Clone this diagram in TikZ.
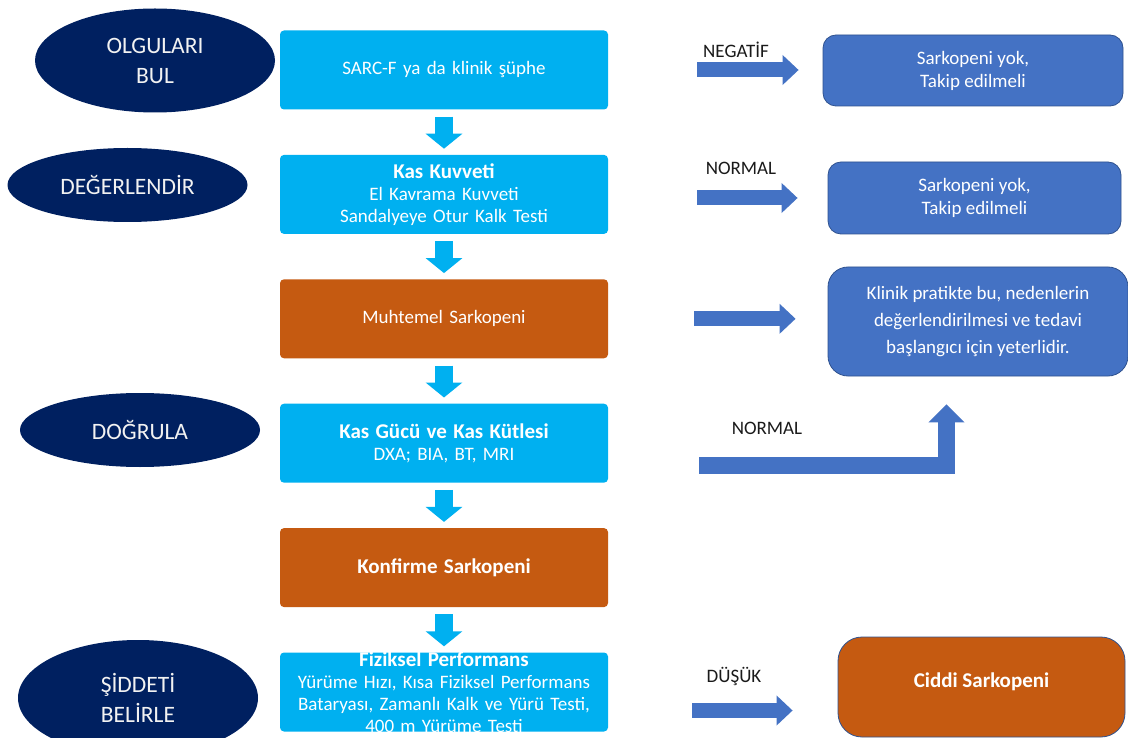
\documentclass[tikz,border=0pt]{standalone}
\usepackage{fontspec}
\setmainfont{Carlito}
\usetikzlibrary{arrows.meta,positioning,shapes.geometric}
\definecolor{NavyOval}{HTML}{002060}
\definecolor{SkyBox}{HTML}{00B0F0}
\definecolor{RustBox}{HTML}{C55A11}
\definecolor{SteelBlue}{HTML}{4472C4}
\definecolor{SteelEdge}{HTML}{2F528F}
\definecolor{LabelInk}{HTML}{1A1A1A}
\newcommand{\stephead}[1]{{\fontsize{21}{24}\selectfont\bfseries #1}}

\begin{document}
\begin{tikzpicture}[x=1pt, y=-1pt,
  stageoval/.style={ellipse, fill=NavyOval, text=white!95!black, minimum width=240pt,
    inner sep=0pt, align=center, font=\fontsize{23.5}{30}\selectfont},
  steptext/.style={text=white, text width=318pt, align=center, font=\fontsize{19}{22}\selectfont},
  stepbox/.style={steptext, rectangle, rounded corners=4pt, fill=SkyBox,
    minimum width=328pt, minimum height=79pt, inner sep=0pt},
  resultbox/.style={rectangle, fill=SteelBlue, draw=SteelEdge, line width=0.8pt,
    rounded corners=13pt, text=white, align=center, inner sep=0pt,
    font=\fontsize{19}{23}\selectfont},
  downflow/.style={draw=SkyBox, line width=18pt, -{Triangle[length=15pt,width=36pt]},
    shorten <=7pt, shorten >=6pt},
  sideflow/.style={draw=SteelBlue, line width=15pt, line join=miter,
    -{Triangle[length=16pt,width=29pt]}},
  flaglabel/.style={text=LabelInk, font=\fontsize{19}{22}\selectfont}
]
\path[use as bounding box, fill=white] (0,0) rectangle (1128,738);

% stage ovals on the left
\node[stageoval, minimum height=104pt] (bul) at (155,60.5) {OLGULARI\\BUL};
\node[stageoval, minimum height=74pt] (degr) at (127.5,185) {DEĞERLENDİR};
\node[stageoval, minimum height=74pt] (dogr) at (140,430) {DOĞRULA};
\node[stageoval, minimum height=116pt] (sidd) at (138,698) {ŞİDDETİ\\BELİRLE};

% main column
\node[stepbox] (sarc) at (444,70) {SARC-F ya da klinik şüphe};
\node[stepbox, below=45pt of sarc] (kuv) {\stephead{Kas Kuvveti}\\El Kavrama Kuvveti\\Sandalyeye Otur Kalk Testi};
\node[stepbox, fill=RustBox, below=45pt of kuv] (muht) {Muhtemel Sarkopeni};
\node[stepbox, below=45pt of muht] (kgk) {\stephead{Kas Gücü ve Kas Kütlesi}\\DXA; BIA, BT, MRI};
\node[stepbox, fill=RustBox, below=45pt of kgk] (konf) {\stephead{Konfirme Sarkopeni}};
\node[stepbox, below=45pt of konf, label={[steptext]center:{\stephead{Fiziksel Performans}\\Yürüme Hızı, Kısa Fiziksel Performans\\Bataryası, Zamanlı Kalk ve Yürü Testi,\\400 m Yürüme Testi}}] (fiz) {};

% outcomes on the right
\node[resultbox, minimum width=300pt, minimum height=71pt] (yok1) at (973,70.5) {Sarkopeni yok,\\Takip edilmeli};
\node[resultbox, minimum width=293pt, minimum height=72pt] (yok2) at (974.5,198) {Sarkopeni yok,\\Takip edilmeli};
\node[resultbox, minimum width=300pt, minimum height=109pt, rounded corners=20pt,
  font=\fontsize{19}{27}\selectfont] (yeterli) at (978,321.5) {Klinik pratikte bu, nedenlerin\\değerlendirilmesi ve tedavi\\başlangıcı için yeterlidir.};
\node[resultbox, fill=RustBox, minimum width=287pt, minimum height=100pt, rounded corners=24pt,
  font=\fontsize{21}{24}\selectfont\bfseries] (ciddi) at (981.5,687) {\raisebox{0pt}[0pt][0pt]{Ciddi Sarkopeni}};

% flow down the column
\draw[downflow] (sarc) -- (kuv);
\draw[downflow] (kuv) -- (muht);
\draw[downflow] (muht) -- (kgk);
\draw[downflow] (kgk) -- (konf);
\draw[downflow] (konf) -- (fiz);

% side arrows
\draw[sideflow, shorten <=89pt, shorten >=24pt] (sarc.east) -- (sarc.east -| yok1.west);
\draw[sideflow, shorten <=89pt, shorten >=30pt] (yok2.west -| kuv.east) -- (yok2.west);
\draw[sideflow, shorten <=86pt, shorten >=32pt] (muht.east) -- (muht.east -| yeterli.west);
\coordinate (upturn) at ([xshift=-31.5pt, yshift=-28pt]yeterli.south);
\draw[sideflow, line width=17pt, -{Triangle[length=18pt,width=35pt]}, shorten <=91pt]
  ([yshift=-22pt]kgk.east) -| (upturn);
\coordinate (lowexit) at ([yshift=-18.5pt]fiz.east);
\draw[sideflow, shorten <=84pt, shorten >=45pt] (lowexit) -- (lowexit -| ciddi.west);

% arrow labels
\node[flaglabel] (neg) at (736,50) {NEGATİF};
\node[flaglabel] (norm1) at (741,168) {NORMAL};
\node[flaglabel] (norm2) at (767,428) {NORMAL};
\node[flaglabel] (dusuk) at (734,676) {DÜŞÜK};
\end{tikzpicture}
\end{document}
